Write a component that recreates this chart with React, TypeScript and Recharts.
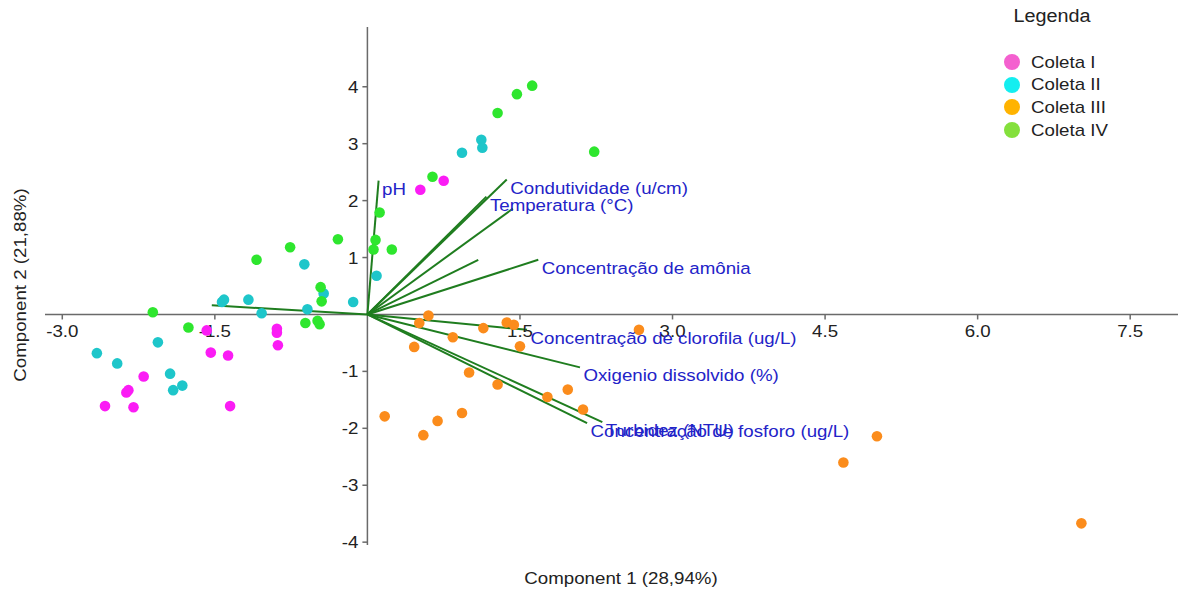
import React from "react";
import { ScatterChart, Scatter, XAxis, YAxis, ReferenceLine, ReferenceDot } from "recharts";

// PCA scores per sampling campaign: [component 1, component 2]
const coletaI: [number, number][] = [
  [-1.58, -0.28], [-1.54, -0.67], [-1.37, -0.72], [-0.89, -0.25], [-0.89, -0.32],
  [-0.88, -0.54], [-2.2, -1.09], [-2.37, -1.37], [-2.35, -1.33], [-2.58, -1.61],
  [-2.3, -1.63], [-1.35, -1.61], [0.52, 2.19], [0.75, 2.35],
];
const coletaII: [number, number][] = [
  [-0.62, 0.88], [-0.43, 0.37], [-0.14, 0.22], [-1.43, 0.22], [-1.41, 0.26],
  [-1.17, 0.26], [-1.04, 0.02], [-0.59, 0.09], [-2.06, -0.49], [-2.66, -0.68],
  [-2.46, -0.86], [-1.94, -1.04], [-1.91, -1.33], [-1.82, -1.25], [0.09, 0.68],
  [0.93, 2.84], [1.12, 3.07], [1.13, 2.93],
];
const coletaIII: [number, number][] = [
  [0.6, -0.02], [0.51, -0.15], [1.14, -0.24], [1.37, -0.14], [1.44, -0.18],
  [0.84, -0.4], [0.46, -0.57], [1.5, -0.56], [1.0, -1.02], [1.28, -1.23],
  [1.77, -1.45], [1.97, -1.32], [2.12, -1.67], [0.17, -1.79], [0.69, -1.87],
  [0.93, -1.73], [0.55, -2.12], [2.67, -0.27], [5.01, -2.14], [4.68, -2.6],
  [7.02, -3.67],
];
const coletaIV: [number, number][] = [
  [-1.09, 0.96], [-0.76, 1.18], [-0.29, 1.32], [-0.46, 0.48], [-0.45, 0.23],
  [-2.11, 0.04], [-1.76, -0.23], [-0.61, -0.15], [-0.49, -0.11], [-0.47, -0.17],
  [0.12, 1.79], [0.08, 1.31], [0.06, 1.14], [0.24, 1.14], [0.64, 2.42],
  [1.28, 3.54], [1.47, 3.87], [1.62, 4.02], [2.23, 2.86],
];

// Variable loadings (biplot vectors)
const loadingNames = [
  "pH",
  "Condutividade (u/cm)",
  "Temperatura (°C)",
  "",
  "",
  "Concentração de amônia",
  "",
  "Concentração de clorofila (ug/L)",
  "Oxigenio dissolvido (%)",
  "Turbidez (NTU)",
  "Concentração de fosforo (ug/L)",
];
const loadingX = [0.11, 1.37, 1.17, 1.43, 1.09, 1.68, -1.53, 1.57, 2.09, 2.31, 2.16];
const loadingY = [2.35, 2.37, 2.07, 1.86, 0.96, 0.96, 0.16, -0.27, -0.93, -1.89, -1.91];

const xTicks = [-3.0, -1.5, 1.5, 3.0, 4.5, 6.0, 7.5];
const yTicks = [-4, -3, -2, -1, 1, 2, 3, 4];

const seriesNames = ["Coleta I", "Coleta II", "Coleta III", "Coleta IV"];
const pointColors = ["#fb1cf5", "#1ec6ca", "#fb8c1c", "#2ee62e"];
const legendColors = ["#f460cf", "#14eef0", "#ffb300", "#84e03c"];

const FONT = '"Liberation Sans", Arial, sans-serif';
const AXIS = "#6a6a6a";
const VECTOR = "#1f7d1f";
const LABEL_BLUE = "#2323c8";
const SX = 1.1;

const toPoints = (rows: [number, number][]) => rows.map(([x, y]) => ({ x, y }));
const groups = [coletaI, coletaII, coletaIII, coletaIV].map(toPoints);

const StretchText = ({ x, y, anchor, size, fill, children }: any) => (
  <text
    transform={`translate(${x},${y}) scale(${SX},1)`}
    textAnchor={anchor}
    fontSize={size}
    fill={fill}
    fontFamily={FONT}
  >
    {children}
  </text>
);

const xTickShape = (label: string) => (p: any) => (
  <g>
    <line x1={p.cx} y1={p.cy} x2={p.cx} y2={p.cy + 5} stroke={AXIS} strokeWidth={1.5} />
    <StretchText x={p.cx} y={p.cy + 23} anchor="middle" size={17} fill="#222">
      {label}
    </StretchText>
  </g>
);

const yTickShape = (label: string) => (p: any) => (
  <g>
    <line x1={p.cx - 5} y1={p.cy} x2={p.cx} y2={p.cy} stroke={AXIS} strokeWidth={1.5} />
    <StretchText x={p.cx - 9} y={p.cy + 6} anchor="end" size={17} fill="#222">
      {label}
    </StretchText>
  </g>
);

const loadingLabelShape = (label: string) => (p: any) => (
  <StretchText x={p.cx + 3.5} y={p.cy + 14} anchor="start" size={17} fill={LABEL_BLUE}>
    {label}
  </StretchText>
);

const dotShape = (color: string) => (p: any) => (
  <circle cx={p.cx} cy={p.cy} r={5.3} fill={color} />
);

const abs = (s: React.CSSProperties): React.CSSProperties => ({
  position: "absolute",
  fontFamily: FONT,
  color: "#222",
  whiteSpace: "nowrap",
  lineHeight: 1,
  ...s,
});

export default function App() {
  return (
    <div style={{ position: "absolute", left: 0, top: 0, width: 1181, height: 593, background: "#fff" }}>
      <ScatterChart width={1181} height={593} margin={{ top: 27, right: 3, bottom: 48, left: 45 }}>
        <XAxis type="number" dataKey="x" domain={[-3.17, 7.97]} hide />
        <YAxis type="number" dataKey="y" domain={[-4.05, 5.05]} hide />

        <ReferenceLine y={0} stroke={AXIS} strokeWidth={1.5} />
        <ReferenceLine x={0} stroke={AXIS} strokeWidth={1.5} />

        {xTicks.map((t) => (
          <ReferenceDot key={`xt${t}`} x={t} y={0} shape={xTickShape(t.toFixed(1))} />
        ))}
        {yTicks.map((t) => (
          <ReferenceDot key={`yt${t}`} x={0} y={t} shape={yTickShape(String(t))} />
        ))}

        {groups.map((g, i) => (
          <Scatter
            key={seriesNames[i]}
            name={seriesNames[i]}
            data={g}
            shape={dotShape(pointColors[i])}
            isAnimationActive={false}
          />
        ))}

        {loadingX.map((vx, i) => (
          <ReferenceLine
            key={`v${i}`}
            segment={[{ x: 0, y: 0 }, { x: vx, y: loadingY[i] }]}
            stroke={VECTOR}
            strokeWidth={2}
          />
        ))}
        {loadingX.map((vx, i) =>
          loadingNames[i] ? (
            <ReferenceDot key={`vl${i}`} x={vx} y={loadingY[i]} shape={loadingLabelShape(loadingNames[i])} />
          ) : null
        )}
      </ScatterChart>

      {/* axis titles */}
      <div style={abs({ left: 621, top: 578, fontSize: 17, transform: `translate(-50%,-50%) scaleX(${SX})` })}>
        Component 1 (28,94%)
      </div>
      <div style={abs({ left: 20, top: 285, fontSize: 17, transform: `translate(-50%,-50%) rotate(-90deg) scaleX(${SX})` })}>
        Component 2 (21,88%)
      </div>

      {/* legend */}
      <div style={abs({ left: 1052, top: 16, fontSize: 18, transform: `translate(-50%,-50%) scaleX(${SX})` })}>
        Legenda
      </div>
      {seriesNames.map((n, i) => (
        <div key={n} style={abs({ left: 1004, top: 62 + i * 22.7 - 8, height: 16, display: "flex", alignItems: "center" })}>
          <span style={{ display: "inline-block", width: 16, height: 16, borderRadius: 8, background: legendColors[i] }} />
          <span style={{ marginLeft: 11, fontSize: 17, display: "inline-block", transform: `scaleX(${SX})`, transformOrigin: "left center" }}>
            {n}
          </span>
        </div>
      ))}
    </div>
  );
}
